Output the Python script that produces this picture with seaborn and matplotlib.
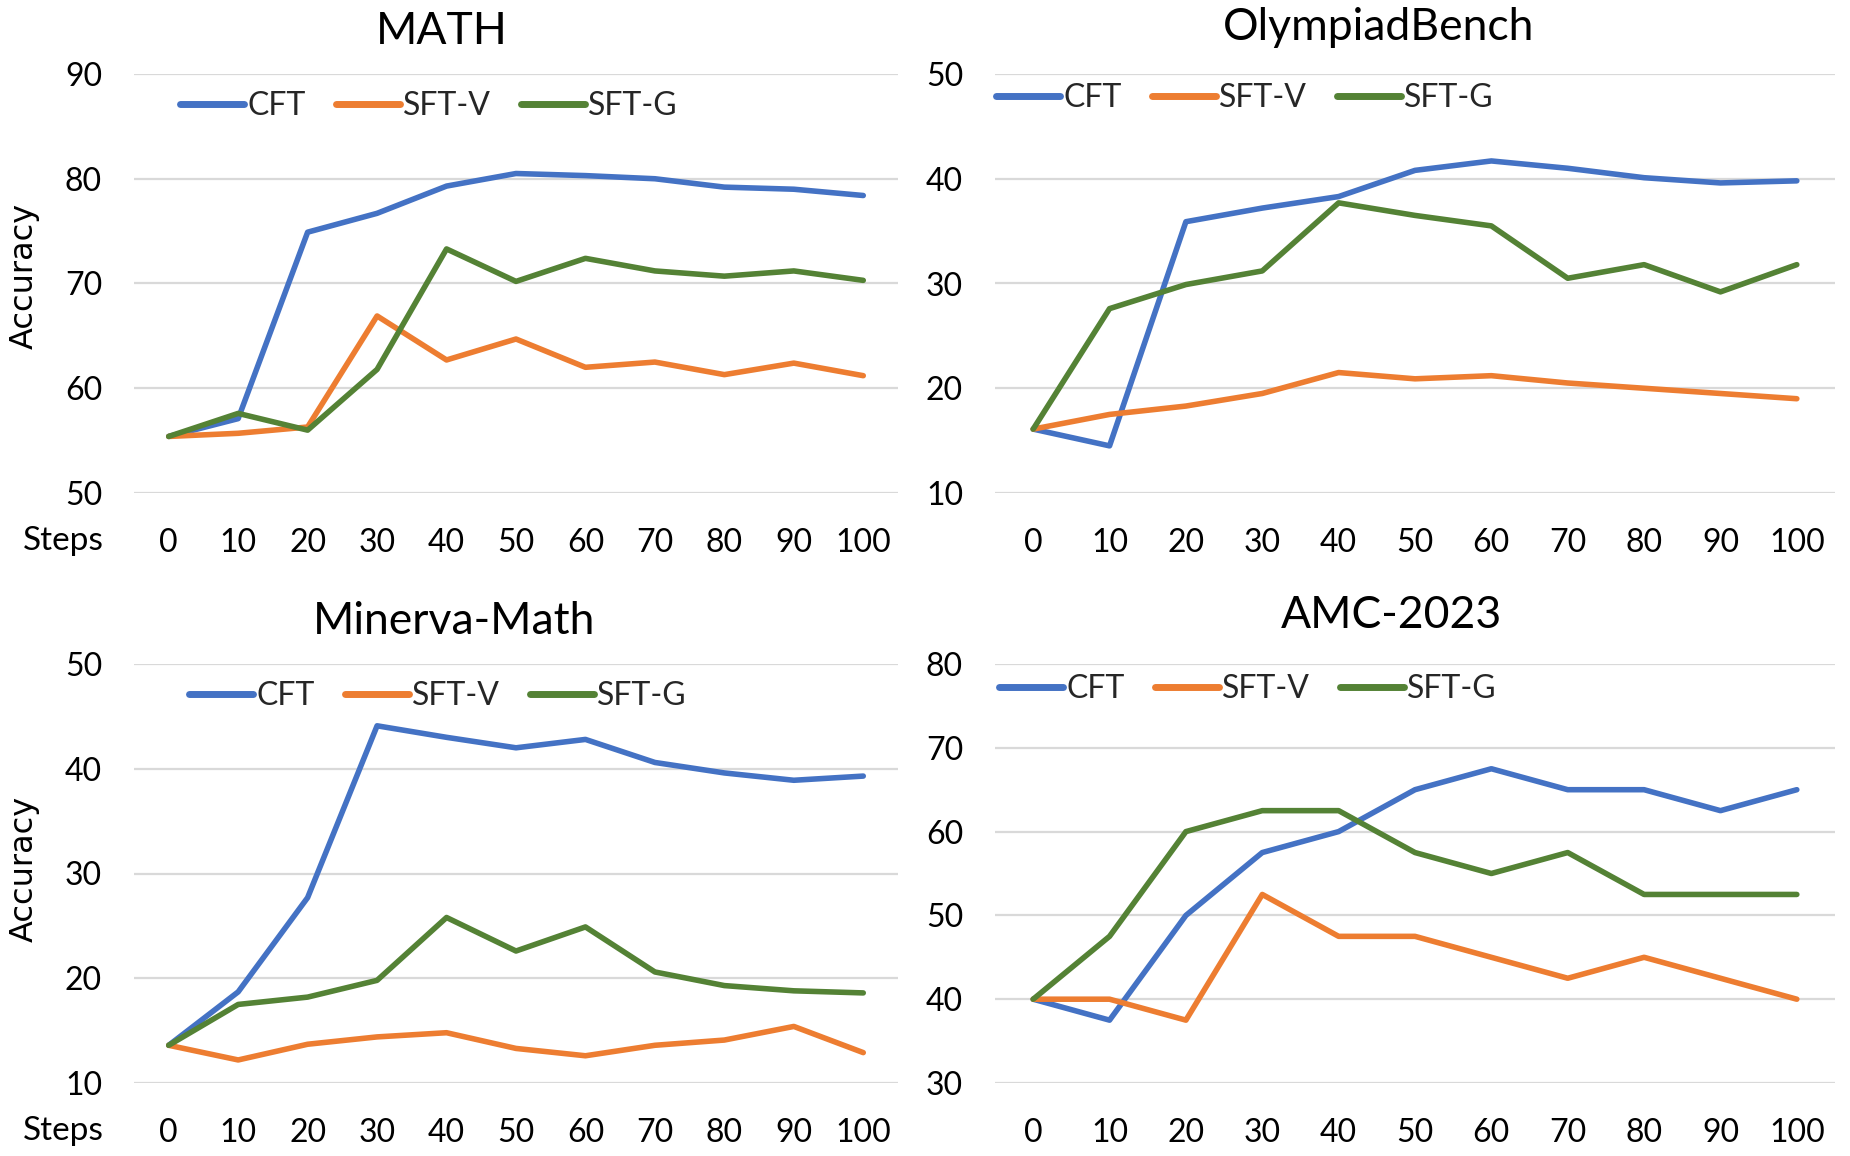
import numpy as np
import pandas as pd
import matplotlib
matplotlib.use("Agg")
import matplotlib.pyplot as plt
import seaborn as sns

steps = [0, 10, 20, 30, 40, 50, 60, 70, 80, 90, 100]
series_names = ["CFT", "SFT-V", "SFT-G"]

math_cft = [55.4, 57.1, 74.9, 76.7, 79.3, 80.5, 80.3, 80.0, 79.2, 79.0, 78.4]
math_sftv = [55.4, 55.7, 56.3, 66.9, 62.7, 64.7, 62.0, 62.5, 61.3, 62.4, 61.2]
math_sftg = [55.4, 57.6, 56.0, 61.8, 73.3, 70.2, 72.4, 71.2, 70.7, 71.2, 70.3]

olym_cft = [16.1, 14.5, 35.9, 37.2, 38.3, 40.8, 41.7, 41.0, 40.1, 39.6, 39.8]
olym_sftv = [16.1, 17.5, 18.3, 19.5, 21.5, 20.9, 21.2, 20.5, 20.0, 19.5, 19.0]
olym_sftg = [16.1, 27.6, 29.9, 31.2, 37.7, 36.5, 35.5, 30.5, 31.8, 29.2, 31.8]

minerva_cft = [13.6, 18.7, 27.7, 44.1, 43.0, 42.0, 42.8, 40.6, 39.6, 38.9, 39.3]
minerva_sftv = [13.6, 12.2, 13.7, 14.4, 14.8, 13.3, 12.6, 13.6, 14.1, 15.4, 12.9]
minerva_sftg = [13.6, 17.5, 18.2, 19.8, 25.8, 22.6, 24.9, 20.6, 19.3, 18.8, 18.6]

amc_cft = [40.0, 37.5, 50.0, 57.5, 60.0, 65.0, 67.5, 65.0, 65.0, 62.5, 65.0]
amc_sftv = [40.0, 40.0, 37.5, 52.5, 47.5, 47.5, 45.0, 42.5, 45.0, 42.5, 40.0]
amc_sftg = [40.0, 47.5, 60.0, 62.5, 62.5, 57.5, 55.0, 57.5, 52.5, 52.5, 52.5]

titles = ["MATH", "OlympiadBench", "Minerva-Math", "AMC-2023"]
ylims = [(50, 90), (10, 50), (10, 50), (30, 80)]

colors = {"CFT": "#4472C4", "SFT-V": "#ED7D31", "SFT-G": "#548235"}

sns.set_theme(style="white")
plt.rcParams["font.family"] = ["Lato", "DejaVu Sans"]

W, H = 1850, 1156
fig = plt.figure(figsize=(W / 100, H / 100), dpi=100)

# pixel boxes: (left, top, right, bottom)
boxes = [(134, 74, 898, 493), (995, 74, 1835, 493),
         (134, 664, 898, 1083), (995, 664, 1835, 1083)]
title_pos = [(442, 31), (1379, 28), (454, 621), (1391, 615)]
legend_pos = [(180, 106), (996, 98), (189, 696), (999, 689)]

data = [(math_cft, math_sftv, math_sftg),
        (olym_cft, olym_sftv, olym_sftg),
        (minerva_cft, minerva_sftv, minerva_sftg),
        (amc_cft, amc_sftv, amc_sftg)]

for i in range(4):
    l, t, r, b = boxes[i]
    ax = fig.add_axes([l / W, 1 - b / H, (r - l) / W, (b - t) / H])
    vals = data[i]
    df = pd.DataFrame({
        "Steps": steps * 3,
        "Accuracy": list(vals[0]) + list(vals[1]) + list(vals[2]),
        "Series": sum([[n] * len(steps) for n in series_names], []),
    })
    sns.lineplot(data=df, x="Steps", y="Accuracy", hue="Series",
                 hue_order=series_names, palette=colors, linewidth=4.0,
                 ax=ax, legend=False)
    for ln in ax.get_lines():
        ln.set_solid_joinstyle("round")
        ln.set_solid_capstyle("round")
    ax.set_xlim(-5, 105)
    ax.set_ylim(*ylims[i])
    ax.set_xticks(steps)
    ax.set_xticklabels([str(s) for s in steps])
    lo, hi = ylims[i]
    ax.set_yticks(np.arange(lo, hi + 1, 10))
    ax.yaxis.grid(True, color="#D9D9D9", linewidth=1.6)
    ax.xaxis.grid(False)
    ax.set_axisbelow(True)
    for s in ax.spines.values():
        s.set_visible(False)
    ax.tick_params(axis="x", length=0, pad=25, labelsize=23, labelcolor="black")
    ax.tick_params(axis="y", length=0, pad=23, labelsize=23, labelcolor="black")
    ax.set_xlabel("")
    ax.set_ylabel("")

    handles = [plt.Line2D([], [], color=colors[n], lw=5, solid_capstyle="round")
               for n in series_names]
    lx, ly = legend_pos[i]
    ax.legend(handles, series_names, loc="center left",
              bbox_to_anchor=((lx - l) / (r - l), (b - ly) / (b - t)),
              ncol=3, frameon=False, fontsize=23, handlelength=2.0,
              handletextpad=0.1, columnspacing=0.95, borderpad=0,
              borderaxespad=0)

    tx, ty = title_pos[i]
    fig.text(tx / W, 1 - ty / H, titles[i], ha="center", va="center",
             fontsize=32, color="black")

# Accuracy labels & Steps labels (left column)
for cy in (276, 869):
    fig.text(24 / W, 1 - cy / H, "Accuracy", rotation=90, ha="center",
             va="center", fontsize=23, family=["DejaVu Sans"], color="black")
for sy in (541, 1131):
    fig.text(63 / W, 1 - sy / H, "Steps", ha="center", va="center",
             fontsize=24, color="black")

fig.savefig("out.png", dpi=100, facecolor="white")
